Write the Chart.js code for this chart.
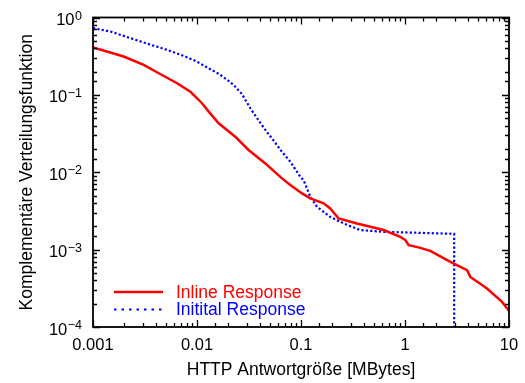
<!DOCTYPE html>
<html>
<head>
<meta charset="utf-8">
<script src="https://cdn.jsdelivr.net/npm/chart.js@4/dist/chart.umd.min.js"></script>
<style>
  body { margin: 0; background: #fff; }
  canvas { display: block; }
</style>
</head>
<body>
<canvas id="ccdf" width="525" height="383"></canvas>
<script>
'use strict';

// HTTP response size [MBytes] vs. complementary CDF
var inlineX = [0.001, 0.00197, 0.00307, 0.00412, 0.00643, 0.00863, 0.00964, 0.01117, 0.01295, 0.01615, 0.0233,
               0.0313, 0.0454, 0.0656, 0.0789, 0.1023, 0.1228, 0.165, 0.191, 0.230, 0.345, 0.622, 0.901, 1.007,
               1.085, 1.35, 1.75, 2.73, 3.95, 4.25, 6.14, 8.57, 10];
var inlineY = [0.41, 0.313, 0.244, 0.196, 0.1415, 0.110, 0.0948, 0.078, 0.0607, 0.043, 0.0288,
               0.0194, 0.013, 0.00834, 0.00683, 0.00533, 0.00459, 0.00396, 0.00341, 0.00253, 0.00218, 0.00179, 0.00146, 0.00133,
               0.00114, 0.00107, 0.000964, 0.000693, 0.000542, 0.000444, 0.000314, 0.000211, 0.000162];

var initialX = [0.001, 0.00147, 0.00229, 0.00343, 0.00515, 0.0077, 0.01, 0.0129, 0.0162, 0.0201, 0.0225, 0.0271,
                0.0326, 0.0378, 0.0454, 0.0546, 0.0656, 0.0789, 0.0984, 0.106, 0.1228, 0.1426, 0.191, 0.257,
                0.371, 0.62, 1.35, 2.97, 2.97];
var initialY = [0.729, 0.659, 0.541, 0.453, 0.382, 0.313, 0.269, 0.221, 0.187, 0.152, 0.1345, 0.102,
                0.0671, 0.0499, 0.0352, 0.0256, 0.0184, 0.0137, 0.00875, 0.0079, 0.00482, 0.00357, 0.00265, 0.00218,
                0.00179, 0.0017, 0.00165, 0.0016, 0.0001];

var seriesNames = ['Inline Response', 'Initital Response'];
var xTickLabels = ['0.001', '0.01', '0.1', '1', '10'];

var FONT = "'Liberation Sans', Arial, Helvetica, sans-serif";

var toPoints = function (xs, ys) {
    return xs.map(function (x, i) { return {x: x, y: ys[i]}; });
};

var isDecade = function (v) {
    var e = Math.log10(v);
    return Math.abs(e - Math.round(e)) < 1e-9;
};

// inward tick marks on all four sides + box, and 10^n labels on the y axis
var frame = {
    id: 'frame',
    afterDatasetsDraw: function (chart) {
        var ctx = chart.ctx;
        var a = chart.chartArea;
        var xs = chart.scales.x, ys = chart.scales.y;
        ctx.save();
        ctx.strokeStyle = '#000';
        ctx.lineWidth = 1.3;
        ctx.beginPath();
        xs.ticks.forEach(function (t) {
            var px = Math.round(xs.getPixelForValue(t.value)) + 0.5;
            var len = isDecade(t.value) ? 7 : 4;
            ctx.moveTo(px, a.bottom); ctx.lineTo(px, a.bottom - len);
            ctx.moveTo(px, a.top); ctx.lineTo(px, a.top + len);
        });
        ys.ticks.forEach(function (t) {
            var py = Math.round(ys.getPixelForValue(t.value)) + 0.5;
            var len = isDecade(t.value) ? 7 : 4;
            ctx.moveTo(a.left, py); ctx.lineTo(a.left + len, py);
            ctx.moveTo(a.right, py); ctx.lineTo(a.right - len, py);
        });
        ctx.stroke();
        ctx.lineWidth = 1.8;
        ctx.strokeRect(a.left, a.top, a.right - a.left, a.bottom - a.top);

        ctx.fillStyle = '#000';
        ctx.textAlign = 'right';
        ctx.textBaseline = 'alphabetic';
        ys.ticks.forEach(function (t) {
            if (!isDecade(t.value)) { return; }
            var e = Math.round(Math.log10(t.value));
            var exp = e < 0 ? '\u2212' + (-e) : String(e);
            var py = ys.getPixelForValue(t.value);
            var xr = a.left - 11;
            ctx.font = '12.5px ' + FONT;
            ctx.fillText(exp, xr, py + 2);
            var w = ctx.measureText(exp).width;
            ctx.font = '16.5px ' + FONT;
            ctx.fillText('10', xr - w - 0.5, py + 7.5);
        });
        ctx.restore();
    }
};

// legend drawn inside the plot, bottom left
var innerLegend = {
    id: 'innerLegend',
    afterDraw: function (chart) {
        var ctx = chart.ctx;
        var a = chart.chartArea;
        ctx.save();
        ctx.font = '17.5px ' + FONT;
        ctx.textBaseline = 'middle';
        chart.data.datasets.forEach(function (ds, i) {
            var y = a.bottom - 35 + i * 17.5;
            ctx.strokeStyle = ds.borderColor;
            ctx.lineWidth = ds.borderWidth;
            ctx.setLineDash(i === 0 ? [] : [2.5, 5]);
            ctx.beginPath();
            ctx.moveTo(a.left + 21, y);
            ctx.lineTo(a.left + 70, y);
            ctx.stroke();
            ctx.fillStyle = ds.borderColor;
            ctx.fillText(ds.label, a.left + 83, y + 1);
        });
        ctx.restore();
    }
};

var ctx = document.getElementById('ccdf').getContext('2d');
var chart = new Chart(ctx, {
    type: 'scatter',
    data: {
        datasets: [
            {
                label: seriesNames[0],
                data: toPoints(inlineX, inlineY),
                showLine: true,
                borderColor: '#ff0000',
                backgroundColor: '#ff0000',
                borderWidth: 2.5,
                pointRadius: 0,
                tension: 0
            },
            {
                label: seriesNames[1],
                data: toPoints(initialX, initialY),
                showLine: true,
                borderColor: '#0000ff',
                backgroundColor: '#0000ff',
                borderWidth: 2.2,
                borderDash: [2.2, 2.2],
                pointRadius: 0,
                tension: 0
            }
        ]
    },
    options: {
        responsive: false,
        animation: false,
        devicePixelRatio: 1,
        layout: { padding: { left: 0, right: 16, top: 17.5, bottom: 0 } },
        plugins: {
            legend: { display: false },
            tooltip: { enabled: false }
        },
        scales: {
            x: {
                type: 'logarithmic',
                min: 0.001,
                max: 10,
                grid: { display: false },
                border: { display: false },
                ticks: {
                    autoSkip: false,
                    maxRotation: 0,
                    padding: 1,
                    color: '#000',
                    font: { family: FONT, size: 16.5 },
                    callback: function (v) {
                        if (!isDecade(v)) { return ''; }
                        return xTickLabels[Math.round(Math.log10(v)) + 3];
                    }
                },
                title: {
                    display: true,
                    text: 'HTTP Antwortgröße [MBytes]',
                    color: '#000',
                    font: { family: FONT, size: 17.5 },
                    padding: { top: 0, bottom: 2 }
                },
                afterFit: function (s) { s.height = 56; }
            },
            y: {
                type: 'logarithmic',
                min: 0.0001,
                max: 1,
                grid: { display: false },
                border: { display: false },
                ticks: { display: false },
                title: {
                    display: true,
                    text: 'Komplementäre Verteilungsfunktion',
                    color: '#000',
                    font: { family: FONT, size: 17.5 },
                    padding: { top: 17, bottom: 0 }
                },
                afterFit: function (s) { s.width = 93; }
            }
        }
    },
    plugins: [frame, innerLegend]
});
</script>
</body>
</html>
